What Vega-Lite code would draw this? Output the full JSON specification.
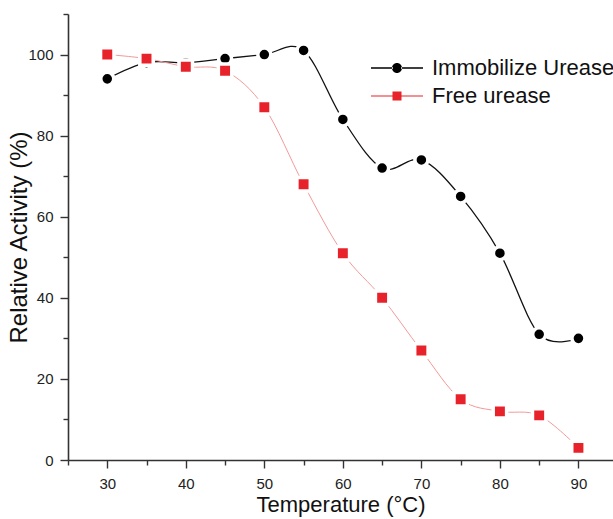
{
  "$schema": "https://vega.github.io/schema/vega-lite/v6.json",
  "width": 545,
  "height": 446,
  "autosize": "none",
  "padding": {"left": 68, "top": 14, "right": 0, "bottom": 59},
  "background": "white",
  "config": {
    "view": {"stroke": null},
    "font": "Liberation Sans",
    "axis": {"grid": false, "domainColor": "#333", "domainWidth": 1.6, "tickColor": "#333", "tickWidth": 1.4, "labelFont": "Liberation Sans", "labelFontSize": 15, "labelColor": "#222", "titleFont": "Liberation Sans", "titleFontSize": 22, "titleFontWeight": "normal", "titleColor": "#111"}
  },
  "data": {"values": [
    {"T": 30, "A": 94, "series": "Immobilize Urease"},
    {"T": 35, "A": 98, "series": "Immobilize Urease"},
    {"T": 40, "A": 98, "series": "Immobilize Urease"},
    {"T": 45, "A": 99, "series": "Immobilize Urease"},
    {"T": 50, "A": 100, "series": "Immobilize Urease"},
    {"T": 55, "A": 101, "series": "Immobilize Urease"},
    {"T": 60, "A": 84, "series": "Immobilize Urease"},
    {"T": 65, "A": 72, "series": "Immobilize Urease"},
    {"T": 70, "A": 74, "series": "Immobilize Urease"},
    {"T": 75, "A": 65, "series": "Immobilize Urease"},
    {"T": 80, "A": 51, "series": "Immobilize Urease"},
    {"T": 85, "A": 31, "series": "Immobilize Urease"},
    {"T": 90, "A": 30, "series": "Immobilize Urease"},
    {"T": 30, "A": 100, "series": "Free urease"},
    {"T": 35, "A": 99, "series": "Free urease"},
    {"T": 40, "A": 97, "series": "Free urease"},
    {"T": 45, "A": 96, "series": "Free urease"},
    {"T": 50, "A": 87, "series": "Free urease"},
    {"T": 55, "A": 68, "series": "Free urease"},
    {"T": 60, "A": 51, "series": "Free urease"},
    {"T": 65, "A": 40, "series": "Free urease"},
    {"T": 70, "A": 27, "series": "Free urease"},
    {"T": 75, "A": 15, "series": "Free urease"},
    {"T": 80, "A": 12, "series": "Free urease"},
    {"T": 85, "A": 11, "series": "Free urease"},
    {"T": 90, "A": 3, "series": "Free urease"}
  ]},
  "encoding": {
    "x": {"field": "T", "type": "quantitative", "scale": {"domain": [25, 94.4], "nice": false, "zero": false},
      "axis": {"title": "Temperature (°C)", "values": [25, 30, 35, 40, 45, 50, 55, 60, 65, 70, 75, 80, 85, 90], "labelExpr": "datum.value % 10 === 0 ? datum.label : ''", "tickSize": {"condition": {"test": "datum.value % 10 === 0", "value": 8}, "value": 5}, "labelPadding": 8, "titlePadding": 3}},
    "y": {"field": "A", "type": "quantitative", "scale": {"domain": [0, 110], "nice": false},
      "axis": {"title": "Relative Activity (%)", "titleFontSize": 24, "values": [0, 10, 20, 30, 40, 50, 60, 70, 80, 90, 100, 110], "labelExpr": "datum.value % 20 === 0 && datum.value <= 100 ? datum.label : ''", "tickSize": {"condition": {"test": "datum.value % 20 === 0 && datum.value <= 100", "value": 8}, "value": 5}, "labelPadding": 7, "titlePadding": -4}}
  },
  "layer": [
    {"transform": [{"filter": "datum.series === 'Immobilize Urease'"}], "mark": {"type": "line", "interpolate": "cardinal", "color": "#111", "strokeWidth": 1.3}},
    {"transform": [{"filter": "datum.series === 'Free urease'"}], "mark": {"type": "line", "interpolate": "cardinal", "color": "#f29a9a", "strokeWidth": 1}},
    {"transform": [{"filter": "datum.series === 'Immobilize Urease'"}], "mark": {"type": "point", "shape": "circle", "filled": true, "size": 170, "fill": "#000", "stroke": "white", "strokeWidth": 3.5, "opacity": 1}},
    {"transform": [{"filter": "datum.series === 'Free urease'"}], "mark": {"type": "point", "shape": "square", "filled": true, "size": 180, "fill": "#e8222b", "stroke": "white", "strokeWidth": 3.5, "opacity": 1}},
    {"transform": [{"filter": "false"}],
      "mark": {"type": "point", "filled": true, "opacity": 1},
      "encoding": {
        "color": {"field": "series", "type": "nominal", "scale": {"domain": ["Immobilize Urease", "Free urease"], "range": ["#000", "#e8222b"]},
          "legend": {"title": null, "orient": "none", "legendX": 318, "legendY": 43, "padding": 0, "labelFont": "Liberation Sans", "labelFontSize": 22, "labelColor": "#111", "labelLimit": 400, "symbolSize": 400, "symbolOpacity": 1, "labelOffset": 24, "rowPadding": 6}},
        "shape": {"field": "series", "type": "nominal", "scale": {"domain": ["Immobilize Urease", "Free urease"], "range": [
          "M-2.6,-0.065H-0.4V0.065H-2.6Z M0.4,-0.065H2.6V0.065H0.4Z M-0.5,0A0.5,0.5 0 1,0 0.5,0A0.5,0.5 0 1,0 -0.5,0Z",
          "M-2.6,-0.04H-0.4V0.04H-2.6Z M0.4,-0.04H2.6V0.04H0.4Z M-0.45,-0.45H0.45V0.45H-0.45Z"
        ]}}
      }}
  ]
}
